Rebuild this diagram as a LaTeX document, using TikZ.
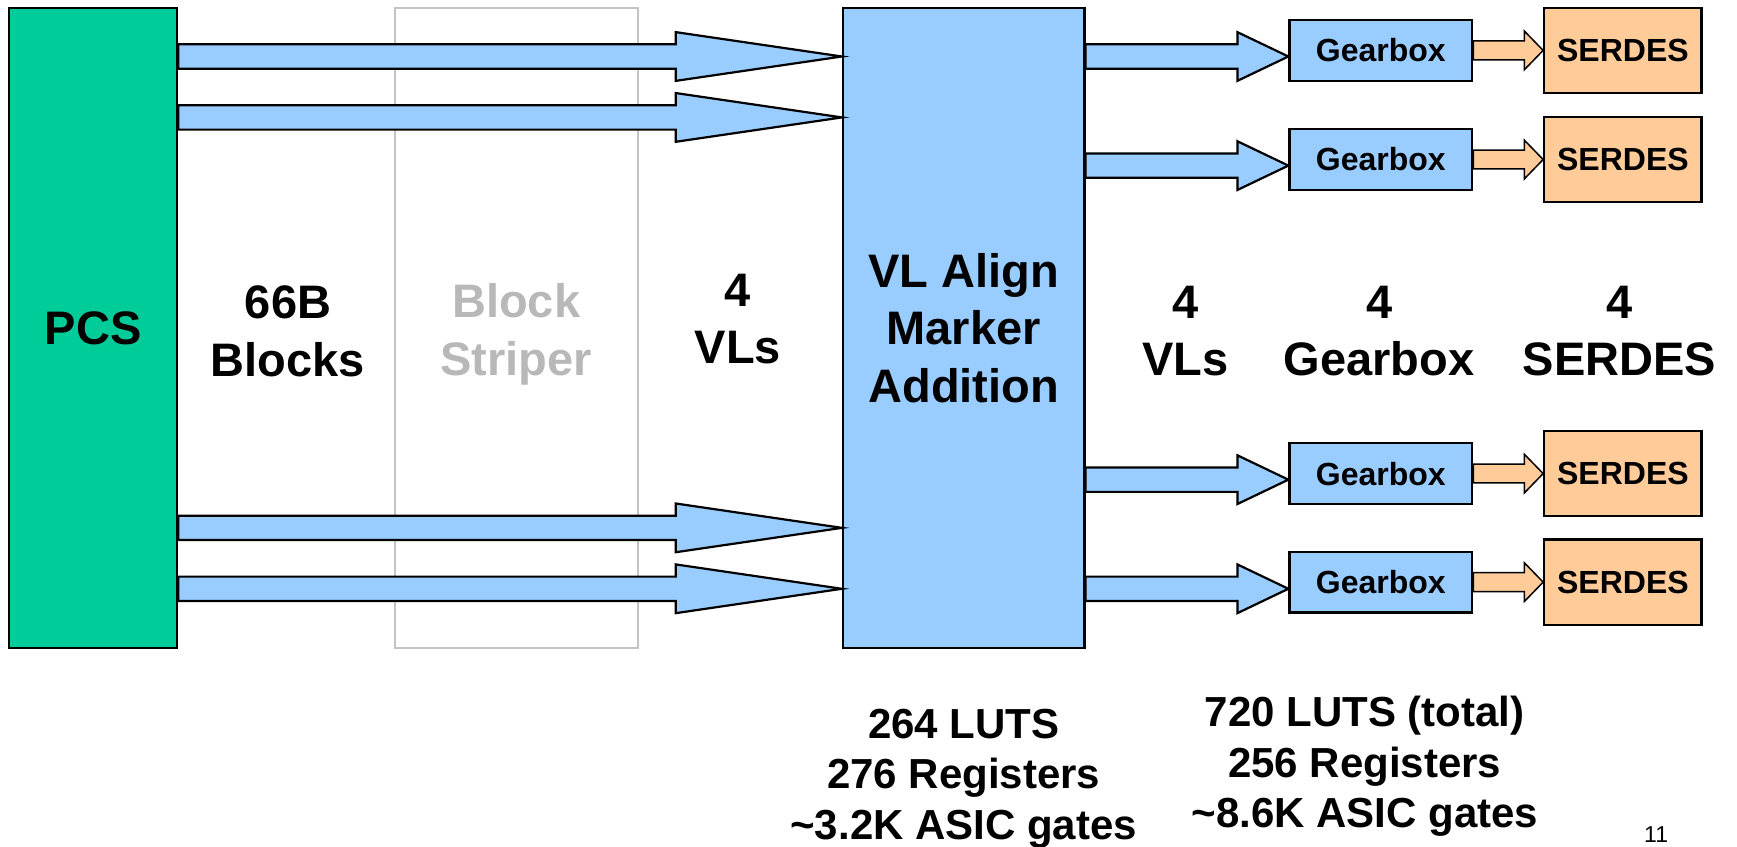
\documentclass[tikz,border=0pt]{standalone}
\usepackage{fontspec}
\setmainfont{Liberation Sans}
\usetikzlibrary{calc}
\definecolor{pcsgreen}{RGB}{0,204,153}
\definecolor{vlblue}{RGB}{153,204,255}
\definecolor{serdesorange}{RGB}{255,204,153}
\definecolor{stripergray}{RGB}{196,196,196}
\definecolor{stripertext}{RGB}{184,184,184}
% #1 style, #2 start, #3 tip, #4 shaft half width, #5 head half width, #6 head length
\newcommand\fatarrow[6]{%
  \draw[#1] ($(#2)+(0,-#4)$) -- ($(#3)+(-#6,-#4)$) -- ($(#3)+(-#6,-#5)$) -- (#3)
    -- ($(#3)+(-#6,#5)$) -- ($(#3)+(-#6,#4)$) -- ($(#2)+(0,#4)$) -- cycle;}
\begin{document}
\begin{tikzpicture}[x=1.1078pt, y=-1.1078pt,
  blk/.style={draw=black, line width=2.2pt, inner sep=0pt, align=center},
  bigfont/.style={font=\fontsize{47}{57.6}\selectfont\bfseries},
  smallfont/.style={font=\fontsize{32}{38}\selectfont\bfseries},
  statfont/.style={font=\fontsize{42}{50.4}\selectfont\bfseries, align=center},
  biglabel/.style={bigfont, align=center, inner sep=0pt},
  gearbox/.style={blk, smallfont, fill=vlblue, minimum width=182.8pt, minimum height=60.9pt},
  serdes/.style={blk, smallfont, fill=serdesorange, minimum width=157.3pt, minimum height=85.3pt},
  bluearrow/.style={draw=black, fill=vlblue, line width=2.2pt, line join=miter},
  orangearrow/.style={draw=black, fill=serdesorange, line width=1.5pt, line join=miter},
]
\useasboundingbox (0,0) rectangle (1568,764);

% Block striper (greyed out)
\node[draw=stripergray, line width=2pt, inner sep=0pt, minimum width=242.6pt, minimum height=640.3pt] (striper) at (466.5,296) {};

% main boxes
\node[blk, bigfont, fill=pcsgreen, minimum width=168.4pt, minimum height=639.8pt] (pcs) at (84,296.25) {PCS};
\node[blk, bigfont, fill=vlblue, minimum width=241.5pt, minimum height=639.8pt] (vl) at (870,296.25) {VL Align\\Marker\\Addition};

\node[gearbox] (g1) at (1246.5,45.5) {Gearbox};
\node[gearbox] (g2) at (1246.5,144) {Gearbox};
\node[gearbox] (g3) at (1246.5,427.5) {Gearbox};
\node[gearbox] (g4) at (1246.5,525.5) {Gearbox};

\node[serdes] (s1) at (1465,45.5) {SERDES};
\node[serdes] (s2) at (1465,144) {SERDES};
\node[serdes] (s3) at (1465,427.5) {SERDES};
\node[serdes] (s4) at (1465,525.5) {SERDES};

% PCS -> VL arrows
\coordinate (p1) at (pcs.east |- 0,51);    \coordinate (v1) at (vl.west |- 0,51);
\coordinate (p2) at (pcs.east |- 0,106);   \coordinate (v2) at (vl.west |- 0,106);
\coordinate (p3) at (pcs.east |- 0,476.5); \coordinate (v3) at (vl.west |- 0,476.5);
\coordinate (p4) at (pcs.east |- 0,531.5); \coordinate (v4) at (vl.west |- 0,531.5);
\fatarrow{bluearrow}{p1}{v1}{11}{22}{150}
\fatarrow{bluearrow}{p2}{v2}{11}{22}{150}
\fatarrow{bluearrow}{p3}{v3}{11}{22}{150}
\fatarrow{bluearrow}{p4}{v4}{11}{22}{150}

% VL -> Gearbox arrows
\coordinate (o1) at (vl.east |- 0,51);    \coordinate (i1) at (g1.west |- 0,51);
\coordinate (o2) at (vl.east |- 0,149.5); \coordinate (i2) at (g2.west |- 0,149.5);
\coordinate (o3) at (vl.east |- 0,433);   \coordinate (i3) at (g3.west |- 0,433);
\coordinate (o4) at (vl.east |- 0,531.5); \coordinate (i4) at (g4.west |- 0,531.5);
\fatarrow{bluearrow}{o1}{i1}{11}{22}{46}
\fatarrow{bluearrow}{o2}{i2}{11}{22}{46}
\fatarrow{bluearrow}{o3}{i3}{11}{22}{46}
\fatarrow{bluearrow}{o4}{i4}{11}{22}{46}

% Gearbox -> SERDES arrows
\fatarrow{orangearrow}{g1.east}{s1.west}{8.5}{17.5}{17}
\fatarrow{orangearrow}{g2.east}{s2.west}{8.5}{17.5}{17}
\fatarrow{orangearrow}{g3.east}{s3.west}{8.5}{17.5}{17}
\fatarrow{orangearrow}{g4.east}{s4.west}{8.5}{17.5}{17}

% labels
\node[biglabel] (lblocks) at (260,299) {66B\\Blocks};
\node[biglabel, text=stripertext] (lstriper) at (466,302) {Block\\Striper};
\node[biglabel] (lvl1) at (666,288) {4\\VLs};
\node[biglabel] (lvl2) at (1070,299) {4\\VLs};
\node[biglabel] (lgear) at (1245,299) {4\\Gearbox};
\node[biglabel] (lser) at (1462,299) {4\\SERDES};

\node[statfont] (stat1) at (870,703) {264 LUTS\\276 Registers\\\textasciitilde3.2K ASIC gates};
\node[statfont] (stat2) at (1232,692) {720 LUTS (total)\\256 Registers\\\textasciitilde8.6K ASIC gates};

\node[font=\fontsize{23}{27}\selectfont] (page) at (1495,753) {11};
\end{tikzpicture}
\end{document}
